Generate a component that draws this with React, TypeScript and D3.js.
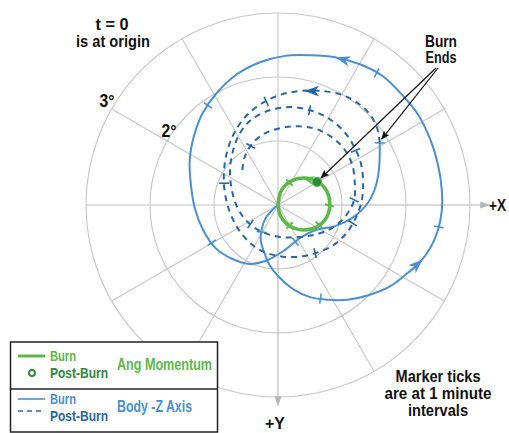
import React from "react";
import * as d3 from "d3";

type P = [number, number];

// ---- data (degrees; +X right, +Y down) ----
const RINGS = [1, 2, 3];
const RING_LABELS = [
  { r: 2, text: "2°" },
  { r: 3, text: "3°" },
];
const SPOKE_ANGLES = [30, 60, 120, 150, 180, 210, 240, 270, 300, 330];

const greenBurn: P[] = [
  [0, 0], [0.05, 0.19], [0.2, 0.34], [0.41, 0.39], [0.61, 0.34], [0.76, 0.19],
  [0.81, -0.02], [0.76, -0.22], [0.61, -0.37], [0.41, -0.42], [0.2, -0.37],
  [0.05, -0.22], [0, 0],
];
const greenTicks: P[] = [[0.22, 0.28], [0.61, 0.28], [0.78, 0], [0.19, -0.34]];
const greenArrows: P[] = [[0.47, -0.4]];
const postBurnH: P = [0.61, -0.36];

const blueBurn: P[] = [
  [0, 0], [-0.09, 0.08], [-0.19, 0.2], [-0.25, 0.36], [-0.27, 0.55], [-0.22, 0.73],
  [-0.13, 0.94], [0.03, 1.14], [0.23, 1.31], [0.5, 1.44], [0.78, 1.48], [1.09, 1.48],
  [1.41, 1.41], [1.75, 1.27], [2.03, 1.06], [2.22, 0.89], [2.38, 0.67], [2.5, 0.39],
  [2.56, 0.08], [2.56, -0.23], [2.5, -0.63], [2.38, -1.02], [2.19, -1.41], [1.94, -1.72],
  [1.63, -2.02], [1.28, -2.2], [0.89, -2.31], [0.5, -2.34], [0.11, -2.33], [-0.28, -2.23],
  [-0.63, -2.05], [-0.94, -1.77], [-1.17, -1.45], [-1.31, -1.09], [-1.38, -0.7],
  [-1.36, -0.31], [-1.3, 0.05], [-1.17, 0.39], [-0.98, 0.67], [-0.72, 0.84], [-0.44, 0.92],
  [-0.16, 0.86], [0.11, 0.7], [0.34, 0.52], [0.59, 0.39], [0.89, 0.33], [1.16, 0.2],
  [1.38, 0.0], [1.52, -0.27], [1.58, -0.58], [1.59, -0.97],
];
const blueBurnTicks: P[] = [
  [1.55, -2.08], [2.5, 0.34], [0.66, 1.48], [-1.09, -1.55], [-0.95, 0.53],
  [-0.27, 0.42], [0.3, 0.61], [1.59, -0.97],
];
const blueBurnArrows: P[] = [[1.02, -2.3], [2.17, 0.92]];

const bluePost: P[] = [
  [1.59, -0.97], [1.55, -1.2], [1.44, -1.41], [1.25, -1.59], [1.0, -1.72], [0.69, -1.78],
  [0.34, -1.78], [0.03, -1.72], [-0.25, -1.59], [-0.48, -1.41], [-0.66, -1.17],
  [-0.78, -0.89], [-0.84, -0.58], [-0.84, -0.27], [-0.78, 0.03], [-0.66, 0.31],
  [-0.48, 0.55], [-0.25, 0.72], [0.03, 0.8], [0.31, 0.81], [0.59, 0.75], [0.86, 0.63],
  [1.06, 0.45], [1.2, 0.23], [1.3, -0.03], [1.33, -0.31], [1.3, -0.63], [1.19, -0.91],
  [1.02, -1.16], [0.78, -1.36], [0.5, -1.48], [0.19, -1.53], [-0.13, -1.48], [-0.41, -1.34],
  [-0.59, -1.13], [-0.7, -0.86], [-0.75, -0.55], [-0.72, -0.23], [-0.63, 0.05],
  [-0.47, 0.27], [-0.25, 0.42], [0.03, 0.5], [0.34, 0.5], [0.63, 0.45], [0.89, 0.33],
  [1.08, 0.14], [1.19, -0.08], [1.2, -0.34], [1.16, -0.63], [1.03, -0.88], [0.84, -1.06],
  [0.59, -1.19], [0.31, -1.23], [0.03, -1.2], [-0.22, -1.11], [-0.41, -0.95],
  [-0.52, -0.75], [-0.56, -0.52],
];
const bluePostTicks: P[] = [
  [-0.17, -1.59], [-0.83, -0.34], [0.58, 0.75], [1.19, 0.3], [1.23, -0.86],
  [0.5, -1.52], [-0.44, 0.31], [1.19, -0.08], [-0.42, -0.92],
];
const bluePostArrows: P[] = [[0.53, -1.77]];

// ---- styles ----
const FONT = "'Liberation Sans', Arial, 'Open Sans', sans-serif";
const GRID = "#c6c6c6";
const GREEN = "#5cb947";
const DKGREEN = "#2c8a3c";
const BLUE = "#4a8fd2";
const DKBLUE = "#2766a6";

const W = 509;
const H = 433;
const CX = 278;
const CY = 205;
const R = 192;

const x = d3.scaleLinear().domain([-3, 3]).range([CX - R, CX + R]);
const y = d3.scaleLinear().domain([-3, 3]).range([CY - R, CY + R]);
const r = d3.scaleLinear().domain([0, 3]).range([0, R]);

const line = d3
  .line<P>()
  .x((d) => x(d[0]))
  .y((d) => y(d[1]))
  .curve(d3.curveCatmullRom.alpha(0.5));

function nearest(path: P[], p: P) {
  const pts = path.map((d) => [x(d[0]), y(d[1])]);
  const px = x(p[0]);
  const py = y(p[1]);
  let best = { d: Infinity, qx: px, qy: py, tx: 1, ty: 0 };
  for (let i = 0; i < pts.length - 1; i++) {
    const [ax, ay] = pts[i];
    const [bx, by] = pts[i + 1];
    const dx = bx - ax;
    const dy = by - ay;
    const L2 = dx * dx + dy * dy || 1;
    let t = ((px - ax) * dx + (py - ay) * dy) / L2;
    t = Math.max(0, Math.min(1, t));
    const qx = ax + t * dx;
    const qy = ay + t * dy;
    const dd = (qx - px) ** 2 + (qy - py) ** 2;
    if (dd < best.d) {
      const L = Math.sqrt(L2);
      best = { d: dd, qx, qy, tx: dx / L, ty: dy / L };
    }
  }
  return best;
}

function Ticks({ path, ticks, color, len, width }: { path: P[]; ticks: P[]; color: string; len: number; width: number }) {
  return (
    <g>
      {ticks.map((t, i) => {
        const n = nearest(path, t);
        const nx = -n.ty;
        const ny = n.tx;
        return (
          <line
            key={i}
            x1={n.qx - nx * len}
            y1={n.qy - ny * len}
            x2={n.qx + nx * len}
            y2={n.qy + ny * len}
            stroke={color}
            strokeWidth={width}
          />
        );
      })}
    </g>
  );
}

function Arrows({ path, arrows, color, size }: { path: P[]; arrows: P[]; color: string; size: number }) {
  return (
    <g>
      {arrows.map((a, i) => {
        const n = nearest(path, a);
        const tx = n.tx;
        const ty = n.ty;
        const nx = -ty;
        const ny = tx;
        const tip = [n.qx + tx * size * 0.6, n.qy + ty * size * 0.6];
        const b = [n.qx - tx * size * 0.6, n.qy - ty * size * 0.6];
        const notch = [n.qx - tx * size * 0.25, n.qy - ty * size * 0.25];
        const w = size * 0.45;
        const d = `M${tip[0]},${tip[1]}L${b[0] + nx * w},${b[1] + ny * w}L${notch[0]},${notch[1]}L${b[0] - nx * w},${b[1] - ny * w}Z`;
        return <path key={i} d={d} fill={color} />;
      })}
    </g>
  );
}

function T({ x, y, w, size, fill = "#111", anchor = "middle", children }: any) {
  return (
    <text
      x={x}
      y={y}
      textAnchor={anchor}
      fontSize={size}
      fill={fill}
      textLength={w}
      lengthAdjust="spacingAndGlyphs"
    >
      {children}
    </text>
  );
}

export default function App() {
  const deg = Math.PI / 180;
  return (
    <svg
      width={W}
      height={H}
      style={{ position: "absolute", left: 0, top: 0, background: "#fff" }}
      fontFamily={FONT}
      fontWeight="bold"
    >
      <defs>
        <marker id="blk" viewBox="0 0 10 10" refX="9" refY="5" markerWidth="9" markerHeight="9" markerUnits="userSpaceOnUse" orient="auto">
          <path d="M0,1L10,5L0,9L2,5Z" fill="#111" />
        </marker>
        <marker id="gry" viewBox="0 0 10 10" refX="9" refY="5" markerWidth="10" markerHeight="10" markerUnits="userSpaceOnUse" orient="auto">
          <path d="M0,1.5L10,5L0,8.5Z" fill="#b5b5b5" />
        </marker>
      </defs>

      {/* grid */}
      {RINGS.map((d) => (
        <circle key={d} cx={CX} cy={CY} r={r(d)} fill="none" stroke={GRID} strokeWidth={1.1} />
      ))}
      {SPOKE_ANGLES.map((a) => (
        <line
          key={a}
          x1={CX}
          y1={CY}
          x2={CX + r(3) * Math.cos(a * deg)}
          y2={CY + r(3) * Math.sin(a * deg)}
          stroke={GRID}
          strokeWidth={1.1}
        />
      ))}
      <line x1={CX} y1={CY} x2={x(3.3)} y2={CY} stroke="#b5b5b5" strokeWidth={1.1} markerEnd="url(#gry)" />
      <line x1={CX} y1={CY} x2={CX} y2={y(3.13)} stroke="#b5b5b5" strokeWidth={1.1} markerEnd="url(#gry)" />
      <T x={489} y={211} w={17} size={17} anchor="start">+X</T>
      <T x={275} y={429} w={20} size={17}>+Y</T>

      {RING_LABELS.map((l) => (
        <T key={l.r} x={l.r === 2 ? 169 : 107} y={l.r === 2 ? 137 : 107} w={15} size={19}>
          {l.text}
        </T>
      ))}

      {/* body -Z axis */}
      <path d={line(blueBurn) || ""} fill="none" stroke={BLUE} strokeWidth={2} />
      <Ticks path={blueBurn} ticks={blueBurnTicks} color={BLUE} len={5} width={1.6} />
      <Arrows path={blueBurn} arrows={blueBurnArrows} color={BLUE} size={12} />

      <path d={line(bluePost) || ""} fill="none" stroke={DKBLUE} strokeWidth={2} strokeDasharray="6,5" />
      <Ticks path={bluePost} ticks={bluePostTicks} color={DKBLUE} len={5} width={1.6} />
      <Arrows path={bluePost} arrows={bluePostArrows} color={DKBLUE} size={12} />

      {/* angular momentum */}
      <path d={line(greenBurn) || ""} fill="none" stroke={GREEN} strokeWidth={3.5} />
      <Ticks path={greenBurn} ticks={greenTicks} color={GREEN} len={4.5} width={2} />
      <Arrows path={greenBurn} arrows={greenArrows} color={GREEN} size={10} />
      <circle cx={x(postBurnH[0])} cy={y(postBurnH[1])} r={4.5} fill={DKGREEN} stroke={GREEN} strokeWidth={1.2} />

      {/* annotations */}
      <T x={112} y={30} w={33} size={16}>t = 0</T>
      <T x={113} y={47} w={74} size={16}>is at origin</T>

      <T x={441} y={47} w={32} size={16}>Burn</T>
      <T x={441} y={63} w={31} size={16}>Ends</T>
      <line x1={436} y1={68} x2={x(postBurnH[0]) + 4} y2={y(postBurnH[1]) - 4} stroke="#111" strokeWidth={1.2} markerEnd="url(#blk)" />
      <line x1={438} y1={68} x2={x(1.62)} y2={y(-1.03)} stroke="#111" strokeWidth={1.2} markerEnd="url(#blk)" />

      <T x={438} y={382} w={85} size={16}>Marker ticks</T>
      <T x={438} y={399} w={107} size={16}>are at 1 minute</T>
      <T x={438} y={416} w={60} size={16}>intervals</T>

      {/* legend */}
      <rect x={10.5} y={342} width={207} height={90} fill="#fff" stroke="#222" strokeWidth={1.5} />
      <line x1={10.5} y1={389} x2={217.5} y2={389} stroke="#222" strokeWidth={1.5} />
      <line x1={18} y1={356} x2={45} y2={356} stroke={GREEN} strokeWidth={3} />
      <circle cx={32} cy={373} r={3} fill="#fff" stroke={DKGREEN} strokeWidth={1.8} />
      <T x={50} y={361} w={26} size={15} fill={GREEN} anchor="start">Burn</T>
      <T x={50} y={378} w={58} size={15} fill={DKGREEN} anchor="start">Post-Burn</T>
      <T x={117} y={370} w={95} size={16} fill={GREEN} anchor="start">Ang Momentum</T>

      <line x1={18} y1={399} x2={45} y2={399} stroke={BLUE} strokeWidth={1.6} />
      <line x1={18} y1={411} x2={45} y2={411} stroke={DKBLUE} strokeWidth={1.6} strokeDasharray="5,4" />
      <T x={50} y={404} w={26} size={15} fill={BLUE} anchor="start">Burn</T>
      <T x={50} y={421} w={58} size={15} fill={DKBLUE} anchor="start">Post-Burn</T>
      <T x={117} y={412} w={75} size={16} fill={BLUE} anchor="start">Body -Z Axis</T>
    </svg>
  );
}
